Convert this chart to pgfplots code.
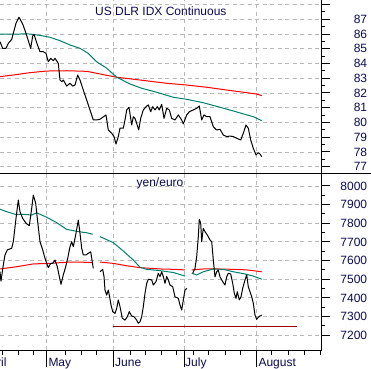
\documentclass[border=0pt]{standalone}
\usepackage{fontspec}
\setmainfont{Liberation Sans}
\usepackage{pgfplots}
\pgfplotsset{compat=1.18}
\definecolor{navy}{RGB}{10,10,80}
\definecolor{gridc}{RGB}{185,185,185}
\definecolor{tealc}{RGB}{0,128,110}
\definecolor{redc}{RGB}{255,0,0}
\definecolor{dred}{RGB}{150,0,0}
\pgfplotsset{
  common/.style={
    scale only axis, width=321.7pt, xmin=0, xmax=321.7,
    axis x line*=bottom, axis y line*=right,
    tick align=outside, major tick length=8pt, minor tick length=3.5pt,
    ytick pos=right,
    ymajorgrids, xmajorgrids,
    major grid style={color=gridc, line width=0.8pt, dash pattern=on 4pt off 3.5pt},
    axis line style={black, line width=1pt},
    every tick/.style={black, line width=1pt},
    yticklabel style={anchor=east, xshift=41pt, font=\fontsize{12}{14}\selectfont, text=navy},
    clip mode=individual,
    unbounded coords=jump,
    xtick={46.7,113.3,184.3,256},
  },
  price/.style={black, line width=1pt, line join=round},
  tma/.style={tealc, line width=1pt},
  rma/.style={redc, line width=1pt},
}
\begin{document}
\begin{tikzpicture}
\begin{axis}[common, at={(0pt,0pt)}, anchor=north west, height=173.3pt,
  ymin=76.55, ymax=88.31,
  ytick={77,78,79,80,81,82,83,84,85,86,87,88},
  yticklabels={77,78,79,80,81,82,83,84,85,86,87,{}},
  minor y tick num=1,
  xticklabels={}, x axis line style={draw=none}, xtick style={draw=none}]
\addplot[rma] coordinates {(0,83.11) (13.3,83.22) (30,83.38) (46.7,83.49) (66.7,83.51) (86.7,83.47) (100,83.29) (116.7,83.07) (140,82.88) (166.7,82.66) (186.7,82.54) (206.7,82.39) (226.7,82.20) (246.7,82.02) (256.7,81.93) (261.7,81.82)};
\addplot[tma] coordinates {(0,86.0) (20,86.0) (25,86.02) (30,86.0) (40,85.91) (50,85.78) (60,85.55) (70,85.26) (80,85.03) (88.3,84.69) (96.7,84.12) (106.7,83.68) (116.7,83.07) (130,82.61) (141.7,82.32) (156.7,82.05) (173.3,81.71) (186.7,81.57) (203.3,81.34) (220,81.03) (233.3,80.78) (243.3,80.58) (253.3,80.39) (261.7,80.12)};
\addplot[price] coordinates {(0,85.48) (2.7,85.03) (6,85.03) (8.3,85.37) (11.7,85.64) (13.3,86.05) (16,86.73) (19,87.14) (22.7,86.68) (26,86.05) (30.7,85.03) (32.7,85.87) (34,85.98) (36.7,85.41) (40,84.80) (43.3,84.80) (46,84.69) (48.3,84.12) (50.7,84.35) (53.3,84.19) (55,84.35) (58.3,84.01) (60,82.88) (61.7,82.77) (63.3,82.88) (66.7,82.47) (70,82.66) (72.7,82.47) (75,82.54) (77.7,83.22) (80,82.88) (83.3,82.20) (86.7,81.52) (90,80.85) (93.3,80.17) (96.7,80.17) (100,80.22) (106,80.51) (108.3,79.49) (111.7,79.27) (114,79.04) (116,78.54) (118.3,79.04) (120,79.61) (123.3,79.61) (125,80.17) (126.7,80.85) (129,81.03) (131.7,79.83) (133.3,80.39) (135,80.28) (136.7,79.94) (138.7,79.49) (140.7,80.28) (143.3,80.85) (146,81.07) (148.3,81.19) (150.7,80.73) (152.7,81.07) (155,80.85) (157.3,81.07) (159.3,80.85) (161.7,81.23) (164,80.28) (166.7,80.96) (169.3,80.85) (171.7,80.28) (175,80.17) (178.3,80.51) (181.7,80.17) (183.3,79.90) (186.7,80.51) (189.3,80.73) (193.3,80.85) (196.7,80.96) (199.3,81.12) (201.7,80.17) (204,80.51) (206.7,80.39) (210,80.39) (213.3,79.71) (216.7,79.49) (220,79.54) (223.3,79.15) (226.7,79.04) (230,79.08) (233.3,79.04) (236.7,78.93) (240.7,78.81) (243.3,79.27) (246,79.83) (248.3,79.61) (250.7,78.81) (253.3,78.25) (256,77.79) (258.3,77.95) (260,77.86) (261.7,77.68)};
\end{axis}
\begin{axis}[common, at={(0pt,-173.3pt)}, anchor=north west, height=176.7pt,
  ymin=7120.7, ymax=8067.5,
  ytick={7200,7300,7400,7500,7600,7700,7800,7900,8000},
  yticklabels={7200,7300,7400,7500,7600,7700,7800,7900,8000},
  minor y tick num=1,
  xticklabels={},
  xtick style={/pgfplots/major tick length=17pt},
  minor xtick={2.7,18.3,33.3,65,81.7,96.7,130,145,161.7,176.7,193.3,208.3,225,240.7,271.7,288.3,304,320},
  minor x tick style={/pgfplots/minor tick length=5pt}]
\addplot[dred, line width=1pt] coordinates {(113.3,7249) (296.7,7249)};
\addplot[rma] coordinates {(0,7555) (16.7,7567) (33.3,7582) (50,7585) (66.7,7591) (83.3,7591) (92.7,7589) (96,nan) (100,7592) (113.3,7585) (126.7,7572) (140,7562) (160,7555) (173.3,7553) (185,7550) (188,nan) (191.7,7550) (203.3,7555) (216.7,7555) (233.3,7553) (246.7,7550) (261.7,7540)};
\addplot[tma] coordinates {(0,7875) (6.7,7862) (15,7848) (23.3,7848) (31.7,7844) (36.7,7856) (46.7,7832) (56.7,7803) (66.7,7767) (78.3,7755) (86.7,7749) (92.7,7741) (96,nan) (100,7728) (113.3,7696) (123.3,7651) (133.3,7603) (140,7564) (146.7,7553) (160,7546) (173.3,7536) (185,7517) (188,nan) (191.7,7532) (196.7,7523) (203.3,7540) (213.3,7555) (223.3,7553) (233.3,7540) (245,7528) (253.3,7517) (261.7,7500)};
\addplot[price] coordinates {(0,7540) (1,7490) (3.3,7576) (5,7630) (7.3,7657) (11.7,7666) (13.3,7701) (16,7826) (18.3,7924) (20,7862) (22.7,7826) (26,7800) (29.3,7787) (31.7,7880) (33.3,7951) (35.7,7907) (37.3,7826) (40,7701) (42.7,7657) (45,7612) (48.3,7562) (50.7,7585) (52.7,7585) (55,7603) (57.3,7567) (59.3,7514) (61,7473) (63.3,7523) (65.7,7567) (67.7,7612) (70,7674) (71.7,7701) (73.3,7674) (76,7746) (78.3,7817) (80,7746) (81.7,7666) (83.3,7630) (86,7630) (88.3,7639) (90.7,7647) (92,7603) (93.3,7558) (96,nan)
(100,7540) (102.7,7553) (104,7514) (105,7442) (106.7,7415) (108.3,7442) (109.3,7415) (111,7362) (112.7,7326) (115,7317) (116.7,7344) (118.3,7389) (120,7353) (122.3,7291) (125,7281) (127.3,7299) (129.3,7326) (131.7,7303) (134,7299) (136.7,7281) (138.3,7264) (140,7272) (141.7,7299) (143.3,7353) (145,7424) (146.7,7478) (148.3,7500) (151.7,7496) (153.3,7469) (156,7487) (158.3,7532) (160,7514) (161.7,7540) (163.3,7514) (165,7478) (166.7,7514) (168.3,7496) (170,7469) (172.7,7460) (175,7406) (178.3,7398) (180,7362) (181.7,7335) (183.3,7389) (185,7442) (186.7,7451) (189,nan)
(192.7,7532) (195,7558) (196.7,7621) (198.3,7728) (199.3,7821) (200.7,7800) (201.7,7701) (203.3,7773) (205,7755) (207.3,7737) (210,7710) (211.7,7701) (213.3,7603) (215,7513) (216.7,7540) (218.3,7549) (220,7513) (222.7,7487) (225,7469) (226.7,7513) (228.3,7532) (230.7,7528) (232.7,7478) (234.3,7425) (236,7398) (237.3,7433) (239.3,7389) (241,7406) (242.7,7451) (245,7496) (246.7,7523) (248.3,7460) (250,7433) (251.7,7406) (253.3,7371) (255,7308) (256.7,7285) (258.3,7296) (260,7303) (261.7,7308)};
\end{axis}
\draw[black, line width=1pt] (0pt,-173.3pt) -- (371pt,-173.3pt);
\node[anchor=base, inner sep=0pt, text=navy, font=\fontsize{12}{14}\selectfont] at (160.8pt,-15pt) {US DLR IDX Continuous};
\node[anchor=base, inner sep=0pt, text=navy, font=\fontsize{12}{14}\selectfont] at (160pt,-186.5pt) {yen/euro};
\node[anchor=base east, inner sep=0pt, text=navy, font=\fontsize{12}{14}\selectfont] at (6.7pt,-366pt) {April};
\node[anchor=base west, inner sep=0pt, text=navy, font=\fontsize{12}{14}\selectfont] at (48.3pt,-366pt) {May};
\node[anchor=base west, inner sep=0pt, text=navy, font=\fontsize{12}{14}\selectfont] at (115pt,-366pt) {June};
\node[anchor=base west, inner sep=0pt, text=navy, font=\fontsize{12}{14}\selectfont] at (185pt,-366pt) {July};
\node[anchor=base west, inner sep=0pt, text=navy, font=\fontsize{12}{14}\selectfont] at (258.3pt,-366pt) {August};
\pgfresetboundingbox
\useasboundingbox (0pt,0pt) rectangle (371pt,-368pt);
\end{tikzpicture}
\end{document}
